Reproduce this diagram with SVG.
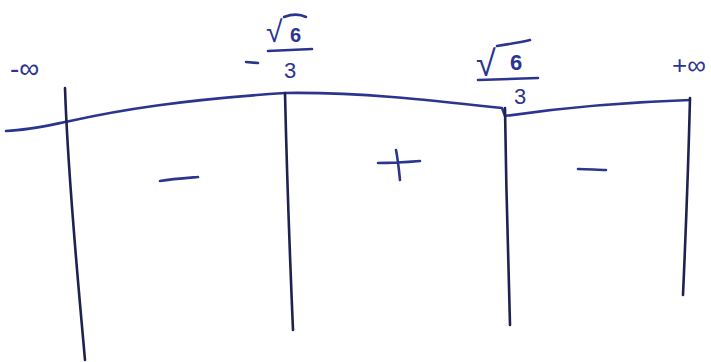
<svg xmlns="http://www.w3.org/2000/svg" width="711" height="362" viewBox="0 0 711 362">
<style>
.ink{fill:none;stroke:#2b3590;stroke-width:2.6;stroke-linecap:round;stroke-linejoin:round}
.dark{fill:none;stroke:#1f2150;stroke-width:2.6;stroke-linecap:round}
.t{font-family:"Liberation Sans",Arial,sans-serif;fill:#2b3590}
</style>
<rect width="711" height="362" fill="#ffffff"/>
<g id="connectors">
<path class="ink" d="M6,131 C30,130 50,125 70,121 C120,110 180,100 285,93 C360,92 430,100 502,108 L505,116 C560,108 630,102 690,100"/>
<path class="dark" d="M65,88 C68,180 78,280 85,360"/>
<path class="dark" d="M285,93 C287,180 290,260 293,330"/>
<path class="dark" d="M505,108 C506,180 508,260 510,325"/>
<path class="dark" d="M690,98 C688,180 685,250 683,295"/>
</g>
<g id="signs">
<path class="ink" d="M160,181 C172,179 186,178 198,177"/>
<path class="ink" d="M378,163 C392,163 408,162 420,161 M396,150 C398,160 399,170 400,180"/>
<path class="ink" d="M578,169 C588,169 598,170 606,170"/>
</g>
<g id="label-neg-inf">
<text class="t" x="10" y="78" font-size="28">-∞</text>
</g>
<g id="label-neg-root">
<path class="ink" d="M246,62 L258,63"/>
<text class="t" x="266" y="42" font-size="30">√</text>
<path class="ink" d="M284,17 C292,14 300,14 306,17"/>
<text class="t" x="290" y="42" font-size="20" font-weight="bold">6</text>
<path class="ink" d="M268,51 L312,49"/>
<text class="t" x="284" y="78" font-size="22">3</text>
</g>
<g id="label-root">
<text class="t" x="476" y="76" font-size="36">√</text>
<path class="ink" d="M497,46 C510,44 522,42 530,40"/>
<text class="t" x="510" y="70" font-size="22" font-weight="bold">6</text>
<path class="ink" d="M478,80 L538,78"/>
<text class="t" x="514" y="104" font-size="22">3</text>
</g>
<g id="label-pos-inf">
<text class="t" x="672" y="74" font-size="26">+∞</text>
</g>
</svg>
